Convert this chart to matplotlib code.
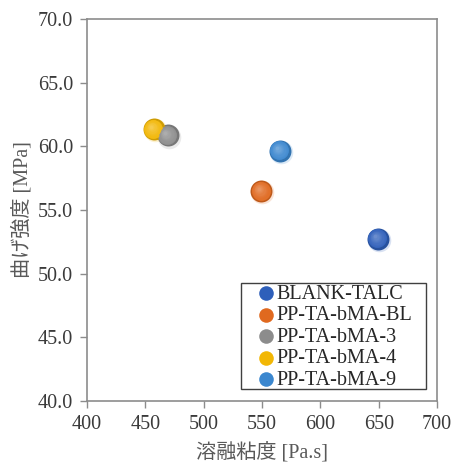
import numpy as np
import matplotlib
matplotlib.use("Agg")
import matplotlib.pyplot as plt
import matplotlib.transforms as mtransforms
from matplotlib.colors import to_rgb
from matplotlib.patches import Rectangle

plt.rcParams['font.family'] = ['Liberation Serif', 'Noto Sans CJK JP']

# Data
samples = ["BLANK-TALC", "PP-TA-bMA-BL", "PP-TA-bMA-3", "PP-TA-bMA-4", "PP-TA-bMA-9"]
melt_viscosity = [649, 549, 469, 457, 565]      # Pa.s
flexural_strength = [52.75, 56.5, 60.85, 61.35, 59.65]  # MPa
colors = ["#2E5FBA", "#E0691F", "#8C8C8C", "#F2B705", "#3B87CF"]

fig = plt.figure(figsize=(4.53, 4.62), dpi=100)
ax = fig.add_axes([0.192, 0.132, 0.773, 0.827])

def mix(c, t, other=(1, 1, 1)):
    r = np.array(to_rgb(c))
    return tuple(r * (1 - t) + np.array(other) * t)

base_s = 250
draw_order = [0, 1, 4, 2, 3]
for i in draw_order:
    x, y, c = melt_viscosity[i], flexural_strength[i], colors[i]
    # soft shadow
    sh = ax.transData + mtransforms.ScaledTranslation(0.8 / 72, -0.9 / 72, fig.dpi_scale_trans)
    ax.scatter([x], [y], s=base_s * 1.15, color=mix(c, 0.6), alpha=0.45,
               linewidths=0, transform=sh, zorder=2)
    ax.scatter([x], [y], s=base_s, color=mix(c, 0.15, (0, 0, 0)), linewidths=0, zorder=3)
    # shaded layers toward upper-left highlight
    n = 7
    for k in range(1, n + 1):
        f = 1 - k / (n + 1.5)
        off = mtransforms.ScaledTranslation(-1.7 * (k / n) / 72, 1.7 * (k / n) / 72,
                                            fig.dpi_scale_trans)
        ax.scatter([x], [y], s=base_s * f ** 2 * 0.95,
                   color=mix(c, 0.03 + 0.26 * (k / n) ** 1.5), linewidths=0,
                   transform=ax.transData + off, zorder=3 + k * 0.01)

# legend: entries without frame, boxed by a separate rectangle
handles = [ax.scatter([], [], s=110, color=c, linewidths=0) for c in colors]
leg = ax.legend(handles, samples, loc="upper left", bbox_to_anchor=(0.454, 0.305),
                fontsize=14.5, frameon=False,
                handletextpad=-0.5, labelspacing=0.12, borderpad=0.0,
                handlelength=2.0, borderaxespad=0)
leg.set_zorder(6)
for t in leg.get_texts():
    t.set_color("#262626")
ax.add_patch(Rectangle((0.44, 0.0314), 0.5286, 0.2776, transform=ax.transAxes,
                       facecolor="white", edgecolor="#404040", linewidth=1.0, zorder=5))

ax.set_xlim(400, 700)
ax.set_ylim(40, 70)
ax.set_xticks(np.arange(400, 701, 50))
ax.set_yticks(np.arange(40, 70.1, 5))
ax.set_yticklabels([f"{v:.1f}" for v in np.arange(40, 70.1, 5)])

for sp in ax.spines.values():
    sp.set_color("#8C8C8C")
    sp.set_linewidth(1.2)
ax.tick_params(direction="out", length=5, width=1.0, color="#8C8C8C",
               labelsize=14.5, labelcolor="#3A3A3A", pad=5)

ax.set_xlabel("溶融粘度 [Pa.s]", fontsize=14.5, color="#595959", labelpad=6)
ax.set_ylabel("曲げ強度 [MPa]", fontsize=14.5, color="#595959", labelpad=4)

fig.savefig("out.png", dpi=100)
